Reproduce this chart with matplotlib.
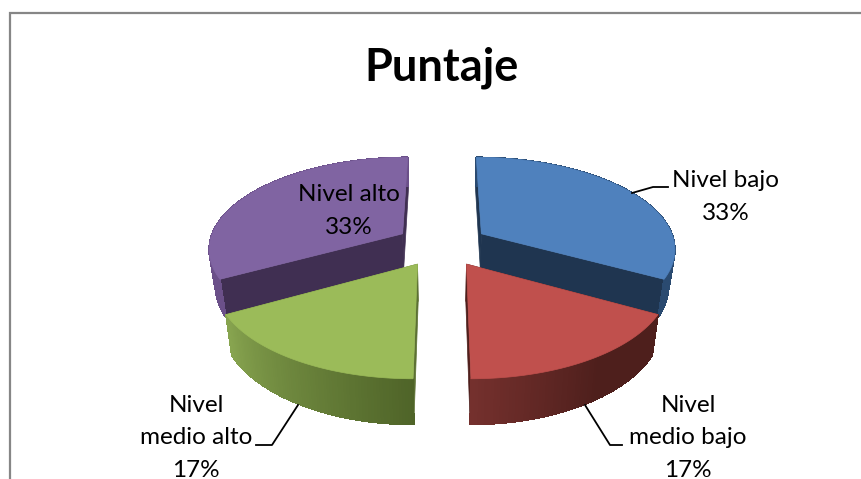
import numpy as np
import matplotlib
matplotlib.use("Agg")
import matplotlib.pyplot as plt
from matplotlib.colors import to_rgb
from matplotlib.collections import PolyCollection
from matplotlib.patches import Polygon

# =========================
# DATA
# =========================
title = "Puntaje"
categories = ["Nivel bajo", "Nivel\nmedio bajo", "Nivel\nmedio alto", "Nivel alto"]
values = [33, 17, 17, 33]

top_colors = ["#4f81bd", "#c0504d", "#9bbb59", "#8064a2"]
face_colors = ["#1f3550", "#4f1f1c", "#5c7033", "#402f52"]
side_start = ["#2a4a70", "#4e1f1c", "#4f6428", "#6b5089"]
side_end = ["#2a4a70", "#74302d", "#87a44f", "#6b5089"]
# where the shading starts along the rim, 0 to 1
ramp_from = [0, 0.45, 0, 0]

# =========================
# PROJECTION
# =========================
cx, cy = 442, 244.7
rx, ry = 194, 91
k = 0.15
explode = 0.24
depth = 35.7
ry_low = 97.8
x_low = 0.973


def project(u, v, low=False):
    s = 1 / (1 - k * v)
    if low:
        return cx + rx * x_low * u * s, cy + depth + ry_low * v * s
    return cx + rx * u * s, cy + ry * v * s


def wedge_uv(t, mid):
    # t and mid in radians, clockwise from the back of the pie
    u0, v0 = explode * np.sin(mid), -explode * np.cos(mid)
    return u0 + np.sin(t), v0 - np.cos(t), u0, v0


plt.rcParams["font.family"] = ["Lato", "DejaVu Sans"]
fig = plt.figure(figsize=(8.61, 4.79), dpi=100)
ax = fig.add_axes([0, 0, 1, 1])
ax.set_xlim(0, 861)
ax.set_ylim(479, 0)
ax.axis("off")

# chart frame
ax.plot([861, 10, 10], [13, 13, 479], color="#868686", lw=1.6, solid_joinstyle="miter")

fracs = np.array(values) / sum(values) * 2 * np.pi
edges = np.concatenate([[0], np.cumsum(fracs)])


def draw_wedge(i):
    a, b = edges[i], edges[i + 1]
    mid = (a + b) / 2
    ts = np.linspace(a, b, 80)
    u, v, u0, v0 = wedge_uv(ts, mid)
    top = np.column_stack(project(u, v))
    low = np.column_stack(project(u, v, True))
    ax0 = np.array(project(u0, v0))
    ax1 = np.array(project(u0, v0, True))

    # cut faces
    for j in (0, -1):
        ax.add_patch(Polygon([ax0, top[j], low[j], ax1], closed=True,
                             fc=face_colors[i], ec=face_colors[i], lw=0.5))

    # outer side, shaded along the rim
    c0, c1 = np.array(to_rgb(side_start[i])), np.array(to_rgb(side_end[i]))
    ax.add_patch(Polygon(np.vstack([top, low[::-1]]), closed=True,
                         fc=(c0 + c1) / 2, ec=(c0 + c1) / 2, lw=0.6))
    polys, cols = [], []
    for n in range(len(ts) - 1):
        polys.append([top[n], top[n + 1], low[n + 1], low[n]])
        w = max(0, (n / (len(ts) - 2) - ramp_from[i]) / (1 - ramp_from[i]))
        cols.append(c0 + (c1 - c0) * w)
    ax.add_collection(PolyCollection(polys, facecolors=cols, edgecolors=cols,
                                     linewidths=0.5, antialiaseds=False))

    # top surface
    ax.add_patch(Polygon(np.vstack([ax0, top]), closed=True,
                         fc=top_colors[i], ec=top_colors[i], lw=0.5))


for i in [0, 3, 1, 2]:
    draw_wedge(i)

# =========================
# TEXT
# =========================
ax.text(442, 68, title, fontsize=32.5, fontweight="bold", ha="center", va="center", color="black")

label_pos = [(726, 197), (688, 438), (196, 438), (349, 211)]
for name, val, (x, y) in zip(categories, values, label_pos):
    ax.text(x, y, f"{name}\n{val}%", fontsize=17.5, ha="center", va="center",
            linespacing=1.68, color="black")

# leader lines
leaders = [([632, 653, 668], [193, 187, 187]),
           ([585, 610, 622], [405, 445, 445]),
           ([298, 272, 256], [405, 445, 445])]
for lx, ly in leaders:
    ax.plot(lx, ly, color="black", lw=1.3)

fig.savefig("out.png", dpi=100)
